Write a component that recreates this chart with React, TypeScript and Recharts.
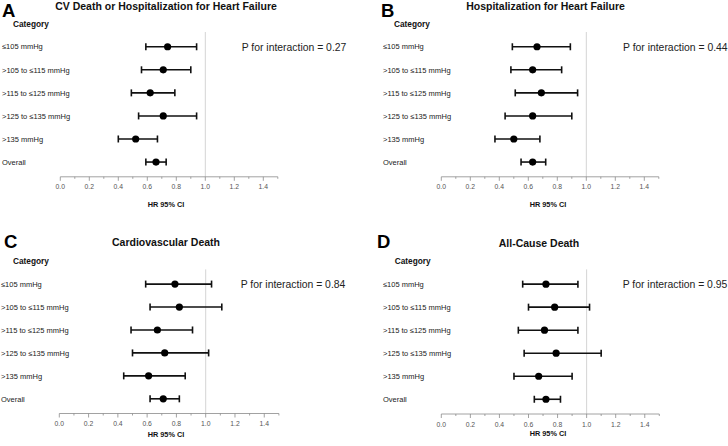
import { ErrorBar, ReferenceLine, Scatter, ScatterChart, XAxis, YAxis } from "recharts";

const CATEGORIES = ["≤105 mmHg", ">105 to ≤115 mmHg", ">115 to ≤125 mmHg", ">125 to ≤135 mmHg", ">135 mmHg", "Overall"];
const X_TICKS = [0, 0.1, 0.2, 0.3, 0.4, 0.5, 0.6, 0.7, 0.8, 0.9, 1.0, 1.1, 1.2, 1.3, 1.4, 1.5];

// hazard ratio, lower and upper 95% CI per category
const A_HR = [0.74, 0.71, 0.62, 0.71, 0.52, 0.66];
const A_LO = [0.59, 0.56, 0.49, 0.54, 0.40, 0.59];
const A_HI = [0.94, 0.90, 0.79, 0.94, 0.67, 0.73];

const B_HR = [0.66, 0.63, 0.69, 0.63, 0.50, 0.63];
const B_LO = [0.49, 0.48, 0.51, 0.44, 0.37, 0.55];
const B_HI = [0.89, 0.83, 0.94, 0.90, 0.68, 0.72];

const C_HR = [0.79, 0.82, 0.67, 0.72, 0.61, 0.71];
const C_LO = [0.59, 0.62, 0.49, 0.50, 0.44, 0.62];
const C_HI = [1.04, 1.11, 0.91, 1.02, 0.86, 0.82];

const D_HR = [0.72, 0.78, 0.71, 0.79, 0.67, 0.72];
const D_LO = [0.56, 0.60, 0.53, 0.57, 0.50, 0.64];
const D_HI = [0.94, 1.02, 0.94, 1.10, 0.90, 0.82];

const TITLES = ["CV Death or Hospitalization for Heart Failure", "Hospitalization for Heart Failure", "Cardiovascular Death", "All-Cause Death"];
const LETTERS = ["A", "B", "C", "D"];
const P_VALUES = ["0.27", "0.44", "0.84", "0.95"];

const FONT = "'Liberation Sans', Arial, sans-serif";
const W = 364;
const H = 223;

function rows(hr: number[], lo: number[], hi: number[]) {
  return hr.map((v, i) => ({ y: i, hr: v, err: [v - lo[i], hi[i] - v] }));
}

function XTick(props: any) {
  const { x, y, payload } = props;
  const v = payload.value as number;
  const major = Math.round(v * 10) % 2 === 0;
  return (
    <g>
      <line x1={x} x2={x} y1={y} y2={y + (major ? 4 : 2)} stroke="#8a8a8a" strokeWidth={0.8} />
      {major && v < 1.5 && (
        <text x={x} y={y + 12.5} textAnchor="middle" fontSize={6.8} fill="#555" fontFamily={FONT}>
          {v.toFixed(1)}
        </text>
      )}
    </g>
  );
}

const dot = (p: any) => <circle cx={p.cx} cy={p.cy} r={3.6} fill="#000" />;

type Layout = {
  left: number; right: number; top: number; bottom: number; labelX: number;
  letterX: number; letterY: number; titleX: number; titleY: number;
  catX: number; catY: number; pX: number; pY: number; hrX: number; hrY: number;
};

function Panel({ idx, data, lay, x0, y0 }: { idx: number; data: any[]; lay: Layout; x0: number; y0: number }) {
  const YTick = (props: any) => (
    <text x={lay.labelX} y={props.y} dy={2.7} textAnchor="start" fontSize={7.5} fill="#1a1a1a" fontFamily={FONT}>
      {CATEGORIES[props.payload.value]}
    </text>
  );
  return (
    <div style={{ position: "absolute", left: x0, top: y0, width: W, height: H }}>
      <ScatterChart width={W} height={H} margin={{ top: lay.top, right: W - lay.right, left: 0, bottom: H - lay.bottom - 30 }}>
        <XAxis
          type="number" dataKey="hr" domain={[0, 1.5]} ticks={X_TICKS} interval={0} height={30}
          tickSize={0} tickMargin={0} tickLine={false} axisLine={{ stroke: "#8a8a8a", strokeWidth: 0.8 }} tick={<XTick />}
        />
        <YAxis
          type="number" dataKey="y" domain={[-0.64, 5.64]} ticks={[0, 1, 2, 3, 4, 5]} reversed width={lay.left}
          axisLine={false} tickLine={false} tick={<YTick />} interval={0}
        />
        <ReferenceLine x={1} stroke="#d4d4d4" strokeWidth={1} />
        <Scatter data={data} shape={dot} isAnimationActive={false}>
          <ErrorBar dataKey="err" direction="x" width={3.5} stroke="#111" strokeWidth={1.6} isAnimationActive={false} />
        </Scatter>
      </ScatterChart>
      <svg width={W} height={H} style={{ position: "absolute", left: 0, top: 0, pointerEvents: "none" }} fontFamily={FONT}>
        <text x={lay.letterX} y={lay.letterY} fontSize={18.5} fontWeight="bold" fill="#000">{LETTERS[idx]}</text>
        <text x={lay.titleX} y={lay.titleY} fontSize={10.5} fontWeight="bold" textAnchor="middle" fill="#111">{TITLES[idx]}</text>
        <text x={lay.catX} y={lay.catY} fontSize={8.3} fontWeight="bold" fill="#111">Category</text>
        <text x={lay.pX} y={lay.pY} fontSize={10.4} fill="#222">{`P for interaction = ${P_VALUES[idx]}`}</text>
        <text x={lay.hrX} y={lay.hrY} fontSize={7.3} fontWeight="bold" textAnchor="middle" fill="#111">HR 95% CI</text>
      </svg>
    </div>
  );
}

const LAY_A: Layout = { left: 60.3, right: 277.8, top: 32, bottom: 176.8, labelX: 2, letterX: 2, letterY: 17, titleX: 166, titleY: 9.5, catX: 13, catY: 27, pX: 241.7, pY: 51.4, hrX: 166, hrY: 207 };
const LAY_B: Layout = { left: 77.3, right: 294.8, top: 32, bottom: 176.8, labelX: 19, letterX: 17, letterY: 17, titleX: 181.5, titleY: 9.5, catX: 30, catY: 27, pX: 259, pY: 51.4, hrX: 184, hrY: 207 };
const LAY_C: Layout = { left: 59.3, right: 278.9, top: 46.4, bottom: 190.5, labelX: 1, letterX: 4, letterY: 25, titleX: 166, titleY: 23, catX: 13, catY: 40.7, pX: 240.7, pY: 65.4, hrX: 166, hrY: 213.7 };
const LAY_D: Layout = { left: 77.3, right: 295.3, top: 46.4, bottom: 191, labelX: 19, letterX: 13, letterY: 25, titleX: 175, titleY: 23.7, catX: 30.7, catY: 40.7, pX: 258.7, pY: 64.7, hrX: 184, hrY: 213.4 };

export default function App() {
  return (
    <div style={{ position: "absolute", left: 0, top: 0, width: 728, height: 446, background: "#fff", overflow: "hidden" }}>
      <Panel idx={0} data={rows(A_HR, A_LO, A_HI)} lay={LAY_A} x0={0} y0={0} />
      <Panel idx={1} data={rows(B_HR, B_LO, B_HI)} lay={LAY_B} x0={364} y0={0} />
      <Panel idx={2} data={rows(C_HR, C_LO, C_HI)} lay={LAY_C} x0={0} y0={223} />
      <Panel idx={3} data={rows(D_HR, D_LO, D_HI)} lay={LAY_D} x0={364} y0={223} />
    </div>
  );
}
